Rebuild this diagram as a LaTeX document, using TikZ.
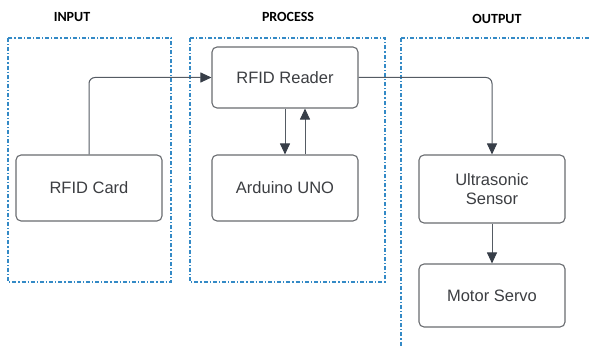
\documentclass[tikz,border=0pt]{standalone}
\usepackage{fontspec}
\setmainfont{Liberation Sans}
\newfontfamily\headfont{Carlito}
\usetikzlibrary{arrows.meta}
\definecolor{zoneblue}{RGB}{52,138,198}
\definecolor{boxgray}{RGB}{105,108,112}
\definecolor{txtgray}{RGB}{60,62,66}
\definecolor{arrowdark}{RGB}{55,62,72}
\tikzset{
  zone/.style={draw=zoneblue, line width=1.2pt, dash pattern=on 4pt off 2pt on 1.2pt off 2pt},
  block/.style={draw=boxgray, line width=1.1pt, rounded corners=5pt, fill=white,
    minimum width=146pt, text=txtgray, font=\fontsize{16.5}{19.5}\selectfont, align=center, inner sep=2pt},
  heading/.style={font=\headfont\bfseries\fontsize{14}{16}\selectfont, text=black},
  link/.style={draw=arrowdark!85!white, line width=1pt, rounded corners=6pt,
    arrows={-{Triangle[length=11pt,width=10pt,color=arrowdark]}}}
}
\begin{document}
\begin{tikzpicture}[x=1pt,y=-1pt]
\useasboundingbox (0,0) rectangle (591,347);
% zones
\draw[zone] (8,38) rectangle (171,282);
\draw[zone] (190,38) rectangle (385,282);
\draw[zone] (401,38) -- (594,38);
\draw[zone] (401,38) -- (401,350);
% headings
\node[heading] (hin) at (72,17) {INPUT};
\node[heading] (hproc) at (288,17) {PROCESS};
\node[heading] (hout) at (497,19) {OUTPUT};
% blocks
\node[block, minimum height=61pt] (reader) at (285,77.5) {RFID Reader};
\node[block, minimum height=66pt] (card) at (89,188) {RFID Card};
\node[block, minimum height=66pt] (uno) at (285,188) {Arduino UNO};
\node[block, minimum height=68pt] (ultra) at (492,189) {Ultrasonic\\Sensor};
\node[block, minimum height=63pt] (servo) at (492,295.5) {Motor Servo};
% connectors
\draw[link] (card.north) |- (reader.west);
\draw[link] (reader.east) -| (ultra.north);
\draw[link] (reader.south) -- (uno.north);
\draw[link] ([xshift=20pt]uno.north) -- ([xshift=20pt]reader.south);
\draw[link] (ultra.south) -- (servo.north);
\end{tikzpicture}
\end{document}
